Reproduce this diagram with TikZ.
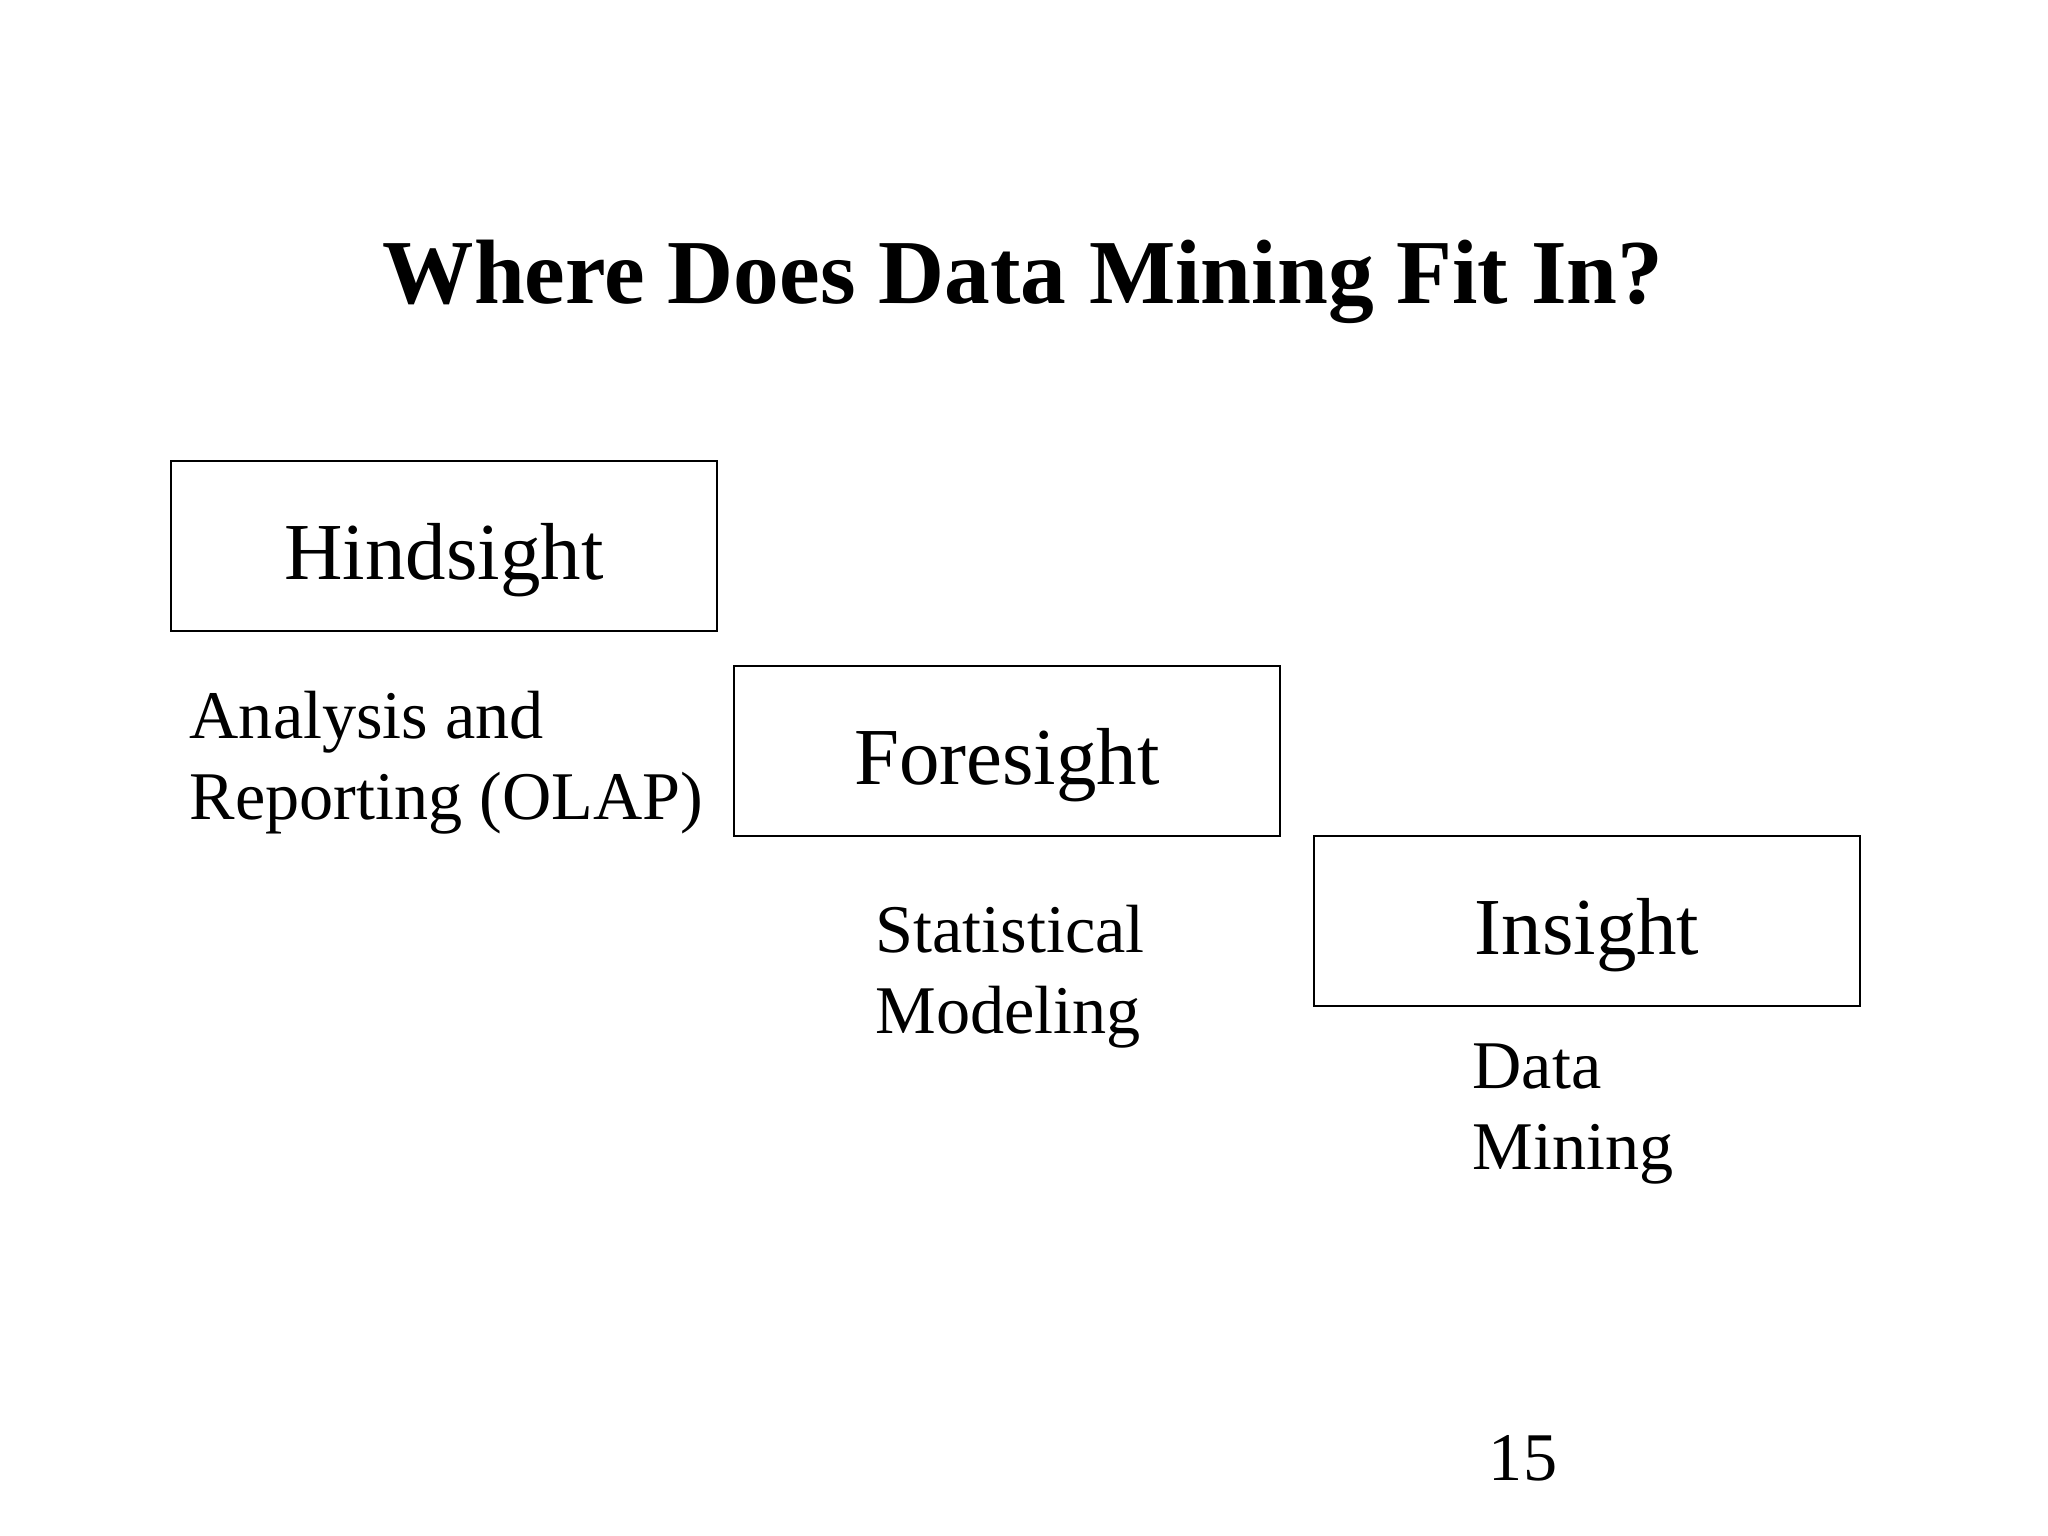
\documentclass[tikz,border=0pt]{standalone}
\usepackage{fontspec}
\setmainfont{Liberation Serif}
\usetikzlibrary{positioning}

\tikzset{
  stage/.style={draw, line width=0.6pt, minimum width=5.46cm, minimum height=1.7cm,
    inner sep=0, text height=0.86cm, text depth=0.2cm, font=\fontsize{23}{27.6}\selectfont},
  note/.style={anchor=base west, inner sep=0, align=left, font=\fontsize{19.4}{23}\selectfont}
}

\begin{document}
\begin{tikzpicture}[x=0.01cm, y=-0.01cm]
\useasboundingbox (0,0) rectangle (2048,1536);
\node[anchor=base, inner sep=0, font=\bfseries\fontsize{26}{31}\selectfont] (title) at (1023,303) {Where Does Data Mining Fit In?};
\foreach \name/\x/\y/\txt in {hind/444/546/Hindsight, fore/1007/751/Foresight, ins/1587/921/Insight} {
 \node[stage] (\name) at (\x,\y) {\txt};
}
% base anchor sits on the last line
\node[note] (olap) at (189,819) {Analysis and\\Reporting (OLAP)};
\node[note] (stat) at (875,1033) {Statistical\\Modeling};
\node[note] (dm) at (1472,1169) {Data\\Mining};
\node[anchor=base, inner sep=0, font=\fontsize{19.4}{23}\selectfont] (page) at (1523,1480) {15};
\end{tikzpicture}
\end{document}
